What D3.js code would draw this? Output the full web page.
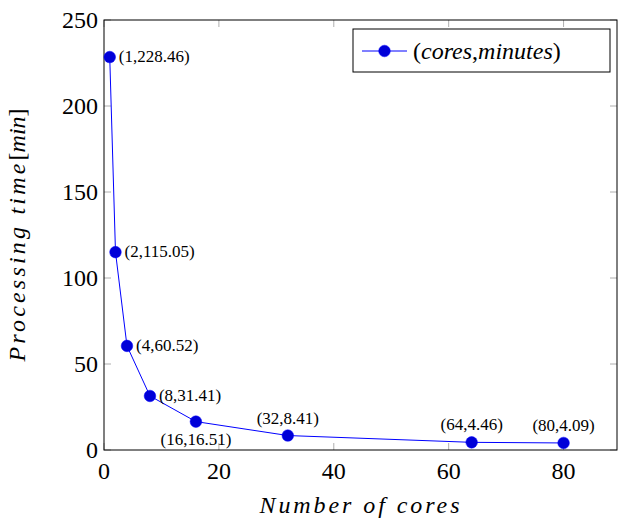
<!DOCTYPE html>
<html>
<head>
<meta charset="utf-8">
<script src="https://cdn.jsdelivr.net/npm/d3@7"></script>
<style>
  body { margin: 0; background: #fff; }
</style>
</head>
<body>
<svg id="chart" width="618" height="521" font-family="Liberation Serif"></svg>
<script>
// data
const cores = [1, 2, 4, 8, 16, 32, 64, 80];
const minutes = [228.46, 115.05, 60.52, 31.41, 16.51, 8.41, 4.46, 4.09];
const xTicks = [0, 20, 40, 60, 80];
const yTicks = [0, 50, 100, 150, 200, 250];
// where each point label sits
const labelSide = ["right", "right", "right", "right", "below", "above", "above", "above"];

const svg = d3.select("#chart");
const margin = { top: 20, right: 1, bottom: 71, left: 104 };
const width = 618 - margin.left - margin.right;
const height = 521 - margin.top - margin.bottom;

const g = svg.append("g").attr("transform", `translate(${margin.left},${margin.top})`);

const x = d3.scaleLinear().domain([0, 89.3]).range([0, width]);
const y = d3.scaleLinear().domain([0, 250]).range([height, 0]);

const tickColor = "#999";
const tickLen = 7;

function txt(sel, size) {
  return sel.append("text").attr("font-family", "Liberation Serif").attr("font-size", size);
}

// ticks on all four sides, pointing inward
xTicks.forEach(t => {
  g.append("line").attr("x1", x(t)).attr("x2", x(t)).attr("y1", height).attr("y2", height - tickLen)
    .attr("stroke", tickColor).attr("stroke-width", 0.8);
  g.append("line").attr("x1", x(t)).attr("x2", x(t)).attr("y1", 0).attr("y2", tickLen)
    .attr("stroke", tickColor).attr("stroke-width", 0.8);
  txt(g, 24).attr("x", x(t)).attr("y", height + 29)
    .attr("text-anchor", "middle").text(t);
});
yTicks.forEach(t => {
  g.append("line").attr("x1", 0).attr("x2", tickLen).attr("y1", y(t)).attr("y2", y(t))
    .attr("stroke", tickColor).attr("stroke-width", 0.8);
  g.append("line").attr("x1", width).attr("x2", width - tickLen).attr("y1", y(t)).attr("y2", y(t))
    .attr("stroke", tickColor).attr("stroke-width", 0.8);
  txt(g, 24).attr("x", -6).attr("y", y(t) + 8)
    .attr("text-anchor", "end").text(t);
});

// frame
g.append("rect").attr("width", width).attr("height", height)
  .attr("fill", "none").attr("stroke", "#000").attr("stroke-width", 1);

const pts = cores.map((c, i) => ({ c, m: minutes[i], side: labelSide[i] }));

const line = d3.line().x(d => x(d.c)).y(d => y(d.m));
g.append("path").datum(pts).attr("d", line)
  .attr("fill", "none").attr("stroke", "#0000ff").attr("stroke-width", 1);

g.selectAll(".dot").data(pts).enter().append("circle")
  .attr("cx", d => x(d.c)).attr("cy", d => y(d.m)).attr("r", 5.8)
  .attr("fill", "#0000d8").attr("stroke", "#0000ff").attr("stroke-width", 0.5);

g.selectAll(".lbl").data(pts).enter().append("text")
  .attr("font-family", "Liberation Serif").attr("font-size", 17)
  .attr("x", d => d.side === "right" ? x(d.c) + 9 : x(d.c))
  .attr("y", d => d.side === "right" ? y(d.m) + 5 : d.side === "below" ? y(d.m) + 23 : y(d.m) - 12)
  .attr("text-anchor", d => d.side === "right" ? "start" : "middle")
  .text(d => `(${d.c},${d.m})`);

// axis labels
txt(g, 24).attr("x", width / 2 - 1).attr("y", height + 63)
  .attr("text-anchor", "middle").attr("font-style", "italic")
  .attr("textLength", 200).attr("lengthAdjust", "spacing")
  .text("Number of cores");

const yl = txt(g, 24).attr("transform", `translate(-79,${height / 2}) rotate(-90)`)
  .attr("text-anchor", "middle");
yl.append("tspan").attr("font-style", "italic").attr("textLength", 198).text("Processing time");
yl.append("tspan").text("[");
yl.append("tspan").attr("font-style", "italic").text("min");
yl.append("tspan").text("]");

// legend
const lg = svg.append("g").attr("transform", "translate(353,29)");
lg.append("rect").attr("width", 257).attr("height", 43)
  .attr("fill", "#fff").attr("stroke", "#000").attr("stroke-width", 1);
lg.append("line").attr("x1", 9).attr("x2", 54).attr("y1", 22).attr("y2", 22)
  .attr("stroke", "#0000ff").attr("stroke-width", 1);
lg.append("circle").attr("cx", 31.5).attr("cy", 22).attr("r", 5.8)
  .attr("fill", "#0000d8").attr("stroke", "#0000ff").attr("stroke-width", 0.5);
const lt = txt(lg, 24).attr("x", 60).attr("y", 30);
lt.append("tspan").text("(");
lt.append("tspan").attr("font-style", "italic").text("cores");
lt.append("tspan").text(",");
lt.append("tspan").attr("font-style", "italic").text("minutes");
lt.append("tspan").text(")");
</script>
</body>
</html>
